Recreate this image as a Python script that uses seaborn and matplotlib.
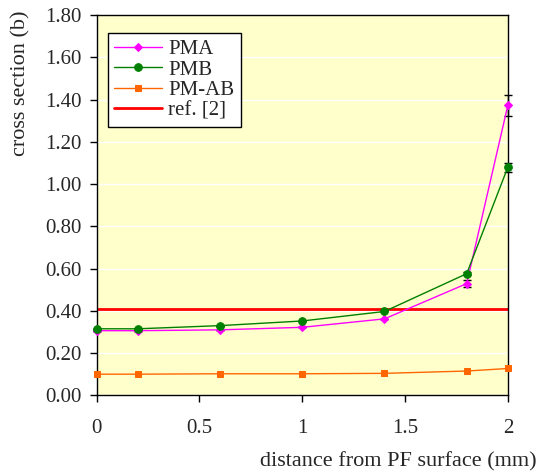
import numpy as np
import pandas as pd
import matplotlib
matplotlib.use("Agg")
import matplotlib.pyplot as plt
import seaborn as sns

distance = [0.0, 0.2, 0.6, 1.0, 1.4, 1.8, 2.0]
pma = [0.306, 0.306, 0.31, 0.322, 0.362, 0.529, 1.373]
pmb = [0.315, 0.315, 0.33, 0.352, 0.397, 0.576, 1.08]
pmab = [0.10, 0.10, 0.102, 0.102, 0.104, 0.115, 0.127]
pma_err = [0, 0, 0, 0, 0, 0.016, 0.05]
pmb_err = [0, 0, 0, 0, 0, 0.008, 0.022]
ref_value = 0.408

series_names = ["PMA", "PMB", "PM-AB"]
colors = {"PMA": "#FF00FF", "PMB": "#008000", "PM-AB": "#FF6600"}
markers = {"PMA": "D", "PMB": "o", "PM-AB": "s"}
msizes = {"PMA": 4.5, "PMB": 5.5, "PM-AB": 4.8}

df = pd.DataFrame({
    "distance": distance * 3,
    "value": pma + pmb + pmab,
    "series": ["PMA"] * 7 + ["PMB"] * 7 + ["PM-AB"] * 7,
})

sns.set_style("white")
plt.rcParams["font.family"] = ["Liberation Serif", "DejaVu Serif"]

fig = plt.figure(figsize=(5.49, 4.71), dpi=100)
ax = fig.add_axes([0.176, 0.1607, 0.749, 0.807])
ax.set_facecolor("#FFFFCC")

# error bars
for vals, errs in ((pma, pma_err), (pmb, pmb_err)):
    eb = ax.errorbar(distance, vals, yerr=errs, fmt="none", ecolor="black",
                     elinewidth=1, capsize=3, capthick=1, zorder=2.5)
    for part in list(eb.lines[1]) + list(eb.lines[2]):
        part.set_clip_on(False)

for name in series_names:
    sub = df[df["series"] == name]
    sns.lineplot(data=sub, x="distance", y="value", ax=ax, color=colors[name],
                 marker=markers[name], markersize=msizes[name], markeredgecolor=colors[name],
                 linewidth=1.0, label=name, zorder=3, clip_on=False)

ax.axhline(ref_value, color="#FF0000", linewidth=2, label="ref. [2]", zorder=2)

ax.set_xlim(0, 2)
ax.set_ylim(0, 1.8)
ax.set_xticks([0, 0.5, 1, 1.5, 2])
ax.set_xticklabels(["0", "0.5", "1", "1.5", "2"])
ax.set_yticks(np.arange(0, 1.81, 0.2))
ax.set_yticklabels([f"{v:.2f}" for v in np.arange(0, 1.81, 0.2)])
ax.yaxis.grid(True, color="white", linewidth=1)
ax.xaxis.grid(False)
ax.set_axisbelow(True)

for s in ax.spines.values():
    s.set_color("black")
    s.set_linewidth(1)

ax.tick_params(axis="both", which="both", direction="out", length=5, width=1,
               color="black", labelsize=15, left=True, bottom=True)
ax.tick_params(axis="x", pad=12)
ax.tick_params(axis="y", pad=6)

ax.set_xlabel("")
ax.set_ylabel("cross section (b)", fontsize=16)
ax.yaxis.set_label_coords(-0.16, 0.82)
fig.text(0.978, 0.0, "distance from PF surface (mm)", ha="right", va="bottom", fontsize=16)

leg = ax.legend(loc="upper left", bbox_to_anchor=(0.027, 0.953), fontsize=15, frameon=True,
                fancybox=False, edgecolor="black", framealpha=1, handlelength=2.3,
                borderpad=0.3, labelspacing=0.05, handletextpad=0.3, borderaxespad=0)
leg.get_frame().set_linewidth(1)

fig.savefig("out.png", dpi=100)
